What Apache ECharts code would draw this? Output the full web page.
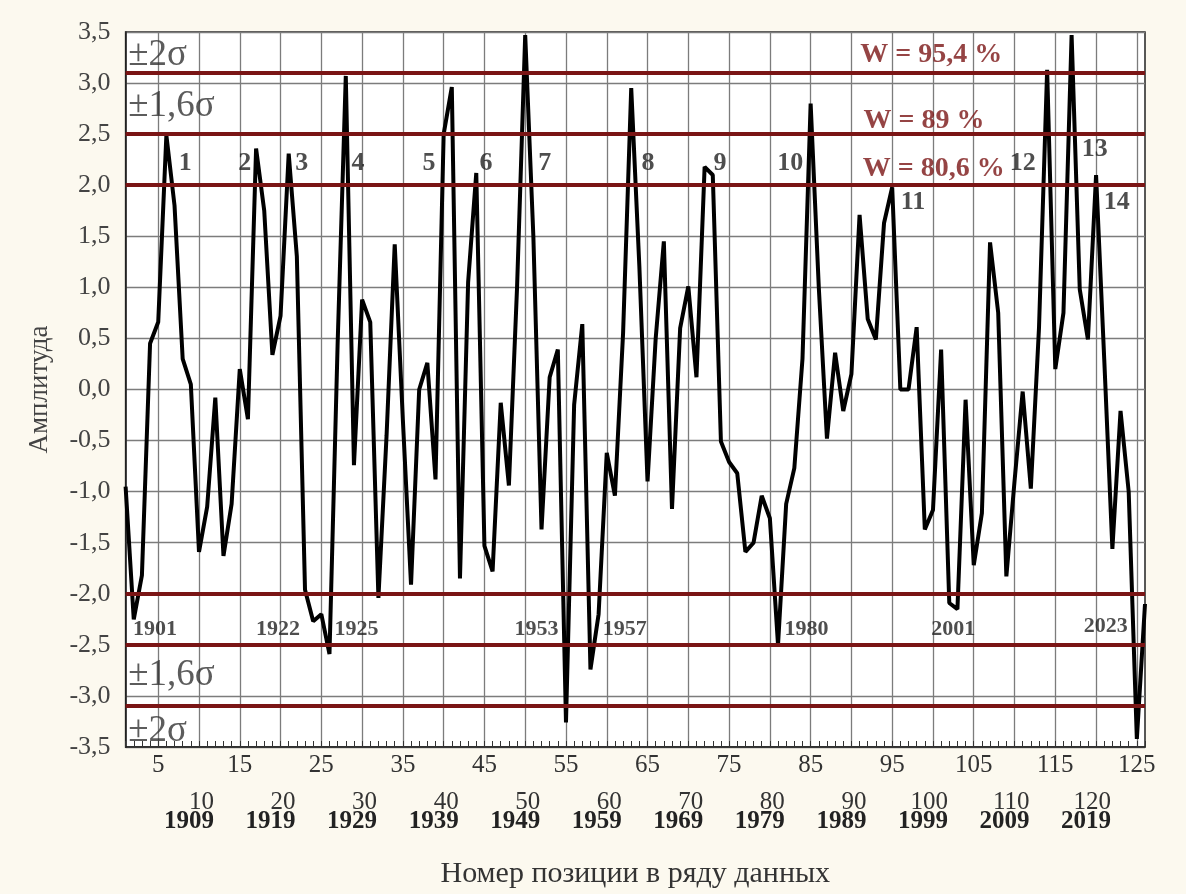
<!DOCTYPE html>
<html>
<head>
<meta charset="utf-8">
<script src="https://cdn.jsdelivr.net/npm/echarts@6/dist/echarts.min.js"></script>
<style>
  html, body { margin: 0; padding: 0; background: #fcf9ef; }
  #chart { width: 1186px; height: 894px; }
</style>
</head>
<body>
<div id="chart"></div>
<script>
// амплитуда по позициям 1..126
const values = [
  -0.95, -2.25, -1.82, 0.45, 0.66, 2.49, 1.8, 0.30, 0.05, -1.59,
  -1.15, -0.08, -1.63, -1.12, 0.20, -0.29, 2.36, 1.75, 0.34, 0.72,
  2.31, 1.3, -1.96, -2.27, -2.20, -2.59, 0.45, 3.07, -0.74, 0.88,
  0.66, -2.04, -0.45, 1.42, -0.3, -1.91, 0.0, 0.26, -0.88, 2.5,
  2.96, -1.85, 1.05, 2.12, -1.53, -1.78, -0.13, -0.94, 1.0, 3.47,
  1.5, -1.37, 0.12, 0.39, -3.26, -0.15, 0.64, -2.74, -2.2, -0.62,
  -1.04, 0.55, 2.95, 1.2, -0.9, 0.5, 1.45, -1.17, 0.6, 1.01,
  0.12, 2.18, 2.1, -0.51, -0.71, -0.82, -1.59, -1.5, -1.04, -1.26,
  -2.5, -1.12, -0.77, 0.3, 2.80, 1.0, -0.48, 0.36, -0.21, 0.15,
  1.71, 0.69, 0.49, 1.63, 1.98, 0.0, 0.0, 0.61, -1.37, -1.18,
  0.39, -2.09, -2.15, -0.10, -1.72, -1.21, 1.44, 0.75, -1.83, -0.9,
  -0.02, -0.97, 0.6, 3.13, 0.2, 0.75, 3.47, 0.98, 0.49, 2.1,
  0.3, -1.56, -0.21, -1.0, -3.42, -2.1
];
const positions = values.map((_, i) => i + 1);

const xTickLabels = [5, 15, 25, 35, 45, 55, 65, 75, 85, 95, 105, 115, 125];
const yearTicks = [10, 20, 30, 40, 50, 60, 70, 80, 90, 100, 110, 120];
const yearTickLabels = ['1909', '1919', '1929', '1939', '1949', '1959', '1969', '1979', '1989', '1999', '2009', '2019'];

const thresholds = [3.1, 2.5, 2.0, -2.0, -2.5, -3.1];

const peakNames = ['1', '2', '3', '4', '5', '6', '7', '8', '9', '10', '11', '12', '13', '14'];
const peakX = [8.3, 15.6, 22.6, 29.5, 38.2, 45.2, 52.4, 65.05, 73.9, 82.5, 97.55, 111.0, 119.85, 122.55];
const peakY = [2.21, 2.21, 2.21, 2.21, 2.21, 2.21, 2.21, 2.21, 2.21, 2.21, 1.83, 2.21, 2.35, 1.83];

const yearNames = ['1901', '1922', '1925', '1953', '1957', '1980', '2001', '2023'];
const yearX = [4.6, 19.7, 29.3, 51.4, 62.2, 84.5, 102.5, 121.2];
const yearY = [-2.35, -2.35, -2.35, -2.35, -2.35, -2.35, -2.35, -2.32];

const wNames = ['W = 95,4 %', 'W = 89 %', 'W = 80,6 %'];
const wX = [99.8, 98.9, 100.1];
const wY = [3.28, 2.63, 2.16];

const sigmaNames = ['±2σ', '±1,6σ', '±1,6σ', '±2σ'];
const sigmaX = [1.25, 1.25, 1.25, 1.25];
const sigmaY = [3.27, 2.77, -2.8, -3.35];

const serif = '"Liberation Serif", "Times New Roman", serif';
const gridGray = '#7c7c7c';
const darkRed = '#7a1515';

const chart = echarts.init(document.getElementById('chart'));

function textSeries(names, xs, ys, label) {
  return {
    type: 'scatter',
    xAxisIndex: 0,
    silent: true,
    symbolSize: 1,
    itemStyle: { color: 'rgba(0,0,0,0)' },
    z: 5,
    label: Object.assign({ show: true, formatter: (p) => p.value[2], fontFamily: serif }, label),
    data: names.map((n, i) => [xs[i], ys[i], n]),
  };
}

chart.setOption({
  backgroundColor: '#fcf9ef',
  animation: false,
  grid: {
    left: 125.6, right: 41, top: 32, bottom: 127,
    show: true, backgroundColor: '#ffffff', borderColor: '#222', borderWidth: 1.5,
  },
  xAxis: [
    { type: 'value', min: 1, max: 126, show: false, position: 'top' },
    {
      type: 'category',
      position: 'bottom',
      boundaryGap: false,
      data: positions.map(String),
      axisLine: { lineStyle: { color: '#222', width: 1.5 } },
      axisTick: { show: true, inside: true, length: 6, interval: 0, lineStyle: { color: '#333' } },
      axisLabel: {
        interval: (idx, val) => xTickLabels.includes(+val),
        margin: 6, fontSize: 25, color: '#333', fontFamily: serif,
      },
      splitLine: {
        show: true,
        interval: (idx, val) => +val % 5 === 0,
        lineStyle: { color: gridGray, width: 1.3 },
      },
      name: 'Номер позиции в ряду данных',
      nameLocation: 'middle',
      nameGap: 112,
      nameTextStyle: { fontSize: 30, color: '#333', fontFamily: serif },
    },
    {
      type: 'category',
      position: 'bottom',
      boundaryGap: false,
      data: positions.map(String),
      axisLine: { show: false },
      axisTick: { show: false },
      splitLine: { show: false },
      axisLabel: {
        interval: (idx, val) => yearTicks.includes(+val),
        margin: 46,
        align: 'center',
        padding: [0, 20, 0, 0],
        formatter: (val) => {
          const k = yearTicks.indexOf(+val);
          return '{n|' + val + '}\n{y|' + yearTickLabels[k] + '}';
        },
        rich: {
          n: { align: 'right', fontSize: 25, color: '#333', fontFamily: serif, lineHeight: 19 },
          y: { fontSize: 25, fontWeight: 'bold', color: '#222', fontFamily: serif, lineHeight: 19 },
        },
      },
    },
  ],
  yAxis: {
    type: 'value',
    min: -3.5, max: 3.5, interval: 0.5,
    axisLine: { show: true, lineStyle: { color: '#222', width: 1.5 } },
    axisTick: { show: false },
    axisLabel: {
      margin: 15, fontSize: 26, color: '#444', fontFamily: serif,
      formatter: (v) => v.toFixed(1).replace('.', ','),
    },
    splitLine: { lineStyle: { color: gridGray, width: 1.3 } },
    name: 'Амплитуда',
    nameLocation: 'middle',
    nameGap: 72,
    nameTextStyle: { fontSize: 27, color: '#444', fontFamily: serif },
  },
  series: [
    {
      name: 'thresholds',
      type: 'line',
      xAxisIndex: 0,
      data: [],
      z: 2,
      markLine: {
        silent: true,
        symbol: 'none',
        label: { show: false },
        lineStyle: { type: 'solid', color: darkRed, width: 4 },
        data: thresholds.map((t) => ({ yAxis: t })),
      },
    },
    {
      name: 'amplitude',
      type: 'line',
      xAxisIndex: 0,
      z: 3,
      showSymbol: false,
      silent: true,
      lineStyle: { color: '#000', width: 4 },
      data: values.map((v, i) => [positions[i], v]),
    },
    textSeries(peakNames, peakX, peakY, { position: 'inside', fontSize: 26, fontWeight: 'bold', color: '#222' }),
    textSeries(yearNames, yearX, yearY, { position: 'inside', fontSize: 22, fontWeight: 'bold', color: '#222' }),
    textSeries(wNames, wX, wY, { position: 'inside', fontSize: 28, fontWeight: 'bold', color: darkRed }),
    textSeries(sigmaNames, sigmaX, sigmaY, { position: 'right', distance: 0, fontSize: 37, color: '#333' }),
  ],
});
</script>
</body>
</html>
